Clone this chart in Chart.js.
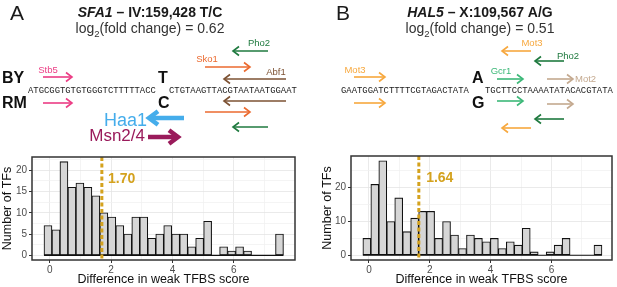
<!DOCTYPE html>
<html>
<head>
<meta charset="utf-8">
<script src="https://cdn.jsdelivr.net/npm/chart.js@4/dist/chart.umd.min.js"></script>
<style>
  body { margin: 0; background: #fff; }
  #wrap { position: relative; width: 617px; height: 287px; }
  canvas { position: absolute; top: 0; }
  #chartA { left: 0; }
  #chartB { left: 308px; }
</style>
</head>
<body>
<div id="wrap">
  <canvas id="chartA" width="308" height="287"></canvas>
  <canvas id="chartB" width="309" height="287"></canvas>
</div>
<script>
// histogram bins (centres) and counts - 30 bins per panel
var binsA = [-0.055, 0.205, 0.465, 0.725, 0.985, 1.245, 1.505, 1.765, 2.025, 2.285,
  2.545, 2.805, 3.065, 3.325, 3.585, 3.845, 4.105, 4.365, 4.625, 4.885,
  5.145, 5.405, 5.665, 5.925, 6.185, 6.445, 6.705, 6.965, 7.225, 7.485];
var countsA = [7, 6, 22, 16, 17, 16, 14, 10, 9, 7, 5, 9, 9, 4, 5, 7, 5, 5, 2, 4,
  8, 0, 2, 1, 2, 1, 0, 0, 0, 5];
var cutA = 1.70;

var binsB = [-0.069, 0.193, 0.455, 0.717, 0.979, 1.241, 1.503, 1.765, 2.027, 2.289,
  2.551, 2.813, 3.075, 3.337, 3.599, 3.861, 4.123, 4.385, 4.647, 4.909,
  5.171, 5.433, 5.695, 5.957, 6.219, 6.481, 6.743, 7.005, 7.267, 7.529];
var countsB = [5, 21, 28, 10, 17, 7, 11, 13, 13, 5, 10, 6, 2, 6, 5, 4, 5, 2, 4, 3,
  8, 1, 0, 1, 3, 5, 0, 0, 0, 3];
var cutB = 1.64;

var xTicks = [0, 2, 4, 6];
var yTicksA = [0, 5, 10, 15, 20];
var yTicksB = [0, 10, 20];

var GOLD = '#D4A21E';
var SANS = "'Liberation Sans', Arial, sans-serif";
var MONO = "'Liberation Mono', 'Courier New', monospace";

// sequence schematic above each histogram (local canvas coords)
var headerA = {
  letter: 'A', letterX: 10,
  gene: 'SFA1', locus: ' \u2013 IV:159,428 T/C', fc: '0.62', cx: 150,
  rows: ['BY', 'RM'], alleles: ['T', 'C'], alleleX: 158,
  seq: ['ATGCGGTGTGTGGGTCTTTTTACC', 'CTGTAAGTTACGTAATAATGGAAT'], seqX: [28, 169],
  motifs: [
    { name: 'Stb5', color: '#EC3D85', lx: 48, ly: 73, align: 'center', arrows: [[43, 72, 77], [43, 72, 103]] },
    { name: 'Pho2', color: '#1F7A3F', lx: 259, ly: 46, align: 'center', arrows: [[268, 233, 51], [268, 233, 127]] },
    { name: 'Sko1', color: '#EB6A2F', lx: 207, ly: 62, align: 'center', arrows: [[205, 250, 67], [205, 250, 112]] },
    { name: 'Abf1', color: '#7D5233', lx: 276, ly: 75, align: 'center', arrows: [[286, 224, 79], [286, 224, 101]] }
  ],
  big: [
    { name: 'Haa1', color: '#45ADEB', lx: 147, ly: 126, size: 18, arrow: [184, 149, 118] },
    { name: 'Msn2/4', color: '#9A1B5B', lx: 145, ly: 141, size: 17, arrow: [148, 178, 137] }
  ]
};
var headerB = {
  letter: 'B', letterX: 28,
  gene: 'HAL5', locus: ' \u2013 X:109,567 A/G', fc: '0.51', cx: 172,
  rows: null, alleles: ['A', 'G'], alleleX: 164,
  seq: ['GAATGGATCTTTTCGTAGACTATA', 'TGCTTCCTAAAATATACACGTATA'], seqX: [33, 177],
  motifs: [
    { name: 'Mot3', color: '#F7A83E', lx: 224, ly: 46, align: 'center', arrows: [[223, 194, 51], [223, 194, 128]] },
    { name: 'Pho2', color: '#1F7A3F', lx: 260, ly: 59, align: 'center', arrows: [[256, 227, 61], [256, 227, 119]] },
    { name: 'Mot3', color: '#F7A83E', lx: 47, ly: 73, align: 'center', arrows: [[46, 77, 77], [46, 77, 103]] },
    { name: 'Gcr1', color: '#3CB878', lx: 193, ly: 74, align: 'center', arrows: [[189, 215, 79], [189, 215, 101]] },
    { name: 'Mot2', color: '#C4A98F', lx: 267, ly: 82, align: 'left', arrows: [[239, 265, 79], [239, 265, 104]] }
  ],
  big: []
};

function arrow(ctx, x1, x2, y, color, lw, head) {
  var dir = x2 > x1 ? 1 : -1;
  ctx.save();
  ctx.strokeStyle = color;
  ctx.lineWidth = lw;
  ctx.beginPath();
  ctx.moveTo(x1, y);
  ctx.lineTo(x2 - dir * lw * 0.4, y);
  ctx.stroke();
  ctx.beginPath();
  ctx.moveTo(x2 - dir * head, y - head * 0.75);
  ctx.lineTo(x2, y);
  ctx.lineTo(x2 - dir * head, y + head * 0.75);
  ctx.stroke();
  ctx.restore();
}

function runs(ctx, parts, cx, y) {
  var total = 0;
  parts.forEach(function (p) { ctx.font = p.f; total += ctx.measureText(p.t).width; });
  var x = cx - total / 2;
  ctx.textAlign = 'left';
  parts.forEach(function (p) {
    ctx.font = p.f;
    ctx.fillText(p.t, x, y + (p.dy || 0));
    x += ctx.measureText(p.t).width;
  });
}

function drawHeader(ctx, h) {
  ctx.save();
  ctx.textBaseline = 'alphabetic';
  ctx.fillStyle = '#1a1a1a';
  ctx.textAlign = 'left';
  ctx.font = '21px ' + SANS;
  ctx.fillText(h.letter, h.letterX, 20);
  runs(ctx, [
    { t: h.gene, f: 'italic bold 14px ' + SANS },
    { t: h.locus, f: 'bold 14px ' + SANS }
  ], h.cx, 17);
  ctx.fillStyle = '#333';
  runs(ctx, [
    { t: 'log', f: '14px ' + SANS },
    { t: '2', f: '9.5px ' + SANS, dy: 4 },
    { t: '(fold change) = ' + h.fc, f: '14px ' + SANS }
  ], h.cx, 33);

  ctx.fillStyle = '#111';
  ctx.font = 'bold 16px ' + SANS;
  if (h.rows) {
    ctx.fillText(h.rows[0], 2, 83);
    ctx.fillText(h.rows[1], 2, 108);
  }
  ctx.fillText(h.alleles[0], h.alleleX, 83);
  ctx.fillText(h.alleles[1], h.alleleX, 108);

  ctx.font = '8.9px ' + MONO;
  ctx.fillStyle = '#222';
  ctx.fillText(h.seq[0], h.seqX[0], 92.5);
  ctx.fillText(h.seq[1], h.seqX[1], 92.5);

  h.motifs.forEach(function (m) {
    ctx.fillStyle = m.color;
    ctx.font = '9.5px ' + SANS;
    ctx.textAlign = m.align;
    ctx.fillText(m.name, m.lx, m.ly);
    m.arrows.forEach(function (a) { arrow(ctx, a[0], a[1], a[2], m.color, 1.6, 6); });
  });
  h.big.forEach(function (m) {
    ctx.fillStyle = m.color;
    ctx.font = m.size + 'px ' + SANS;
    ctx.textAlign = 'right';
    ctx.fillText(m.name, m.lx, m.ly);
    arrow(ctx, m.arrow[0], m.arrow[1], m.arrow[2], m.color, 4.5, 9);
  });
  ctx.restore();
}

var panelPlugin = {
  id: 'panel',
  afterDatasetsDraw: function (chart) {
    var o = chart.options.plugins.panel;
    var ctx = chart.ctx, a = chart.chartArea;
    var xs = chart.scales.x, ys = chart.scales.y;
    var bars = chart.getDatasetMeta(0).data;
    var y0 = ys.getPixelForValue(0);
    ctx.save();
    // zero-count bins still show as a line on the baseline
    ctx.strokeStyle = '#111';
    ctx.lineWidth = 1.2;
    ctx.beginPath();
    ctx.moveTo(bars[0].x - bars[0].width / 2, y0);
    ctx.lineTo(bars[bars.length - 1].x + bars[bars.length - 1].width / 2, y0);
    ctx.stroke();
    // cutoff line
    var cx = xs.getPixelForValue(o.cut);
    ctx.strokeStyle = GOLD;
    ctx.lineWidth = 3;
    ctx.setLineDash([4, 2.5]);
    ctx.beginPath();
    ctx.moveTo(cx, a.top);
    ctx.lineTo(cx, a.bottom);
    ctx.stroke();
    ctx.setLineDash([]);
    ctx.fillStyle = GOLD;
    ctx.font = 'bold 14px ' + SANS;
    ctx.textAlign = 'left';
    ctx.textBaseline = 'middle';
    ctx.fillText(o.cut.toFixed(2), xs.getPixelForValue(o.labelAt[0]), ys.getPixelForValue(o.labelAt[1]));
    ctx.restore();
  },
  afterDraw: function (chart) {
    var o = chart.options.plugins.panel;
    var ctx = chart.ctx, a = chart.chartArea;
    ctx.save();
    ctx.strokeStyle = '#333';
    ctx.lineWidth = 1.5;
    ctx.strokeRect(a.left, a.top, a.right - a.left, a.bottom - a.top);
    ctx.restore();
    drawHeader(ctx, o.header);
  }
};

function histogram(id, bins, counts, cut, yLabels, yMin, yMax, xMin, xMax, pad, yWidth, labelAt, header) {
  var points = bins.map(function (b, i) { return { x: b, y: counts[i] }; });
  var yStep = (yLabels[1] - yLabels[0]) / 2;
  var yGrid = [];
  for (var v = 0; v <= yMax; v += yStep) yGrid.push(v);
  var xGrid = [0, 1, 2, 3, 4, 5, 6, 7];
  function gridColor(list) {
    return function (c) { return c.tick && list.indexOf(c.tick.value) >= 0 ? '#E4E4E4' : '#F1F1F1'; };
  }
  function tickColor(list) {
    return function (c) { return c.tick && list.indexOf(c.tick.value) >= 0 ? '#333' : 'rgba(0,0,0,0)'; };
  }
  return new Chart(document.getElementById(id).getContext('2d'), {
    type: 'bar',
    data: {
      datasets: [{
        data: points,
        backgroundColor: '#D6D6D6',
        borderColor: '#111',
        borderWidth: 1.1,
        borderSkipped: false,
        barPercentage: 1,
        categoryPercentage: 1,
        grouped: false
      }]
    },
    plugins: [panelPlugin],
    options: {
      responsive: false,
      animation: false,
      devicePixelRatio: 1,
      layout: { padding: pad },
      plugins: {
        legend: { display: false },
        tooltip: { enabled: false },
        panel: { cut: cut, labelAt: labelAt, header: header }
      },
      scales: {
        x: {
          type: 'linear',
          min: xMin,
          max: xMax,
          offset: false,
          afterBuildTicks: function (s) { s.ticks = xGrid.map(function (t) { return { value: t }; }); },
          afterFit: function (s) { s.height = 27; },
          ticks: {
            color: '#4D4D4D',
            font: { family: SANS, size: 10 },
            padding: 1,
            maxRotation: 0,
            autoSkip: false,
            callback: function (val) { return xTicks.indexOf(val) >= 0 ? String(val) : ''; }
          },
          grid: { offset: false, color: gridColor(xTicks), lineWidth: 0.8, tickLength: 3, tickColor: tickColor(xTicks), tickWidth: 1 },
          border: { display: false },
          title: { display: true, text: 'Difference in weak TFBS score', color: '#111', font: { family: SANS, size: 12.5 }, padding: 0 }
        },
        y: {
          min: yMin,
          max: yMax,
          afterBuildTicks: function (s) { s.ticks = yGrid.map(function (t) { return { value: t }; }); },
          afterFit: function (s) { s.width = yWidth; },
          ticks: {
            color: '#4D4D4D',
            font: { family: SANS, size: 10 },
            padding: 2,
            autoSkip: false,
            callback: function (val) { return yLabels.indexOf(val) >= 0 ? String(val) : ''; }
          },
          grid: { color: gridColor(yLabels), lineWidth: 0.8, tickLength: 3, tickColor: tickColor(yLabels), tickWidth: 1 },
          border: { display: false },
          title: { display: true, text: 'Number of TFs', color: '#111', font: { family: SANS, size: 12.5 }, padding: 0 }
        }
      }
    }
  });
}

histogram('chartA', binsA, countsA, cutA, yTicksA, -1.1, 23.1, -0.575, 7.99,
  { top: 157, left: 0, right: 13, bottom: 0 }, 32, [1.9, 17.9], headerA);
histogram('chartB', binsB, countsB, cutB, yTicksB, -1.4, 29.4, -0.59, 7.99,
  { top: 156, left: 12, right: 5, bottom: 0 }, 31, [1.88, 22.8], headerB);
</script>
</body>
</html>
